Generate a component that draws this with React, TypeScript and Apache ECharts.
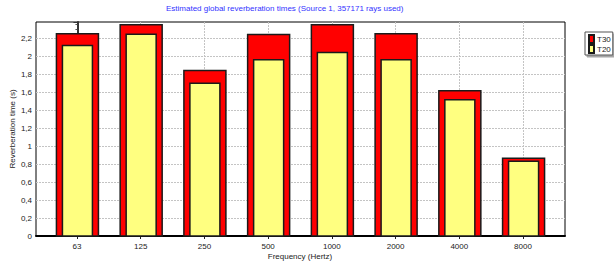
import React, { useEffect, useRef } from "react";
import * as echarts from "echarts";

const frequencies = ["63", "125", "250", "500", "1000", "2000", "4000", "8000"];
const t30 = [2.25, 2.35, 1.84, 2.24, 2.35, 2.25, 1.615, 0.865];
const t20 = [2.12, 2.245, 1.7, 1.96, 2.04, 1.96, 1.515, 0.83];
const yMax = 2.38;
const xPad = 0.65;

const FONT = "Liberation Sans, Arial, sans-serif";

function barRenderer(width: number, fill: string) {
  return (params: any, api: any) => {
    const x = api.value(0);
    const v = api.value(1);
    const top = api.coord([x, v]);
    const base = api.coord([x, 0]);
    return {
      type: "rect",
      shape: { x: top[0] - width / 2, y: top[1], width, height: base[1] - top[1] },
      style: { fill, stroke: "#1a1a1a", lineWidth: 1.5 },
    };
  };
}

export default function App() {
  const ref = useRef<HTMLDivElement>(null);
  useEffect(() => {
    if (!ref.current) return;
    const chart = echarts.init(ref.current, undefined, { renderer: "svg" });
    const option: any = {
      animation: false,
      backgroundColor: "#fff",
      textStyle: { fontFamily: FONT },
      title: {
        text: "Estimated global reverberation times (Source 1, 357171 rays used)",
        left: 166,
        top: 4,
        padding: 0,
        textStyle: { fontSize: 8, fontWeight: "normal", color: "#3333ff", fontFamily: FONT },
      },
      legend: {
        orient: "vertical",
        left: 585,
        top: 32,
        padding: [2, 2, 1, 3],
        itemGap: 0,
        itemWidth: 5,
        itemHeight: 8,
        icon: "rect",
        borderColor: "#555",
        borderWidth: 1,
        backgroundColor: "#fff",
        shadowColor: "rgba(0,0,0,0.35)",
        shadowOffsetX: 2,
        shadowOffsetY: 2,
        shadowBlur: 1,
        textStyle: { fontSize: 8, lineHeight: 9, color: "#222", padding: [0, 0, 0, -2] },
        data: ["T30", "T20"],
      },
      grid: [
        { left: 36, top: 22, width: 529, height: 214, show: true, borderColor: "#000", borderWidth: 1, containLabel: false, outerBoundsMode: "none" },
        { left: 77, top: 22, width: 446, height: 214, containLabel: false, outerBoundsMode: "none" },
      ],
      xAxis: [
        {
          gridIndex: 0,
          type: "value",
          min: -xPad,
          max: frequencies.length - 1 + xPad,
          axisLine: { show: true, onZero: false, lineStyle: { color: "#000", width: 2 } },
          axisTick: { show: false },
          axisLabel: { show: false },
          splitLine: { show: false },
        },
        {
          gridIndex: 1,
          type: "category",
          data: frequencies,
          boundaryGap: false,
          name: "Frequency (Hertz)",
          nameLocation: "middle",
          nameGap: 16,
          nameMoveOverlap: false,
          nameTextStyle: { fontSize: 8, color: "#222" },
          axisLine: { show: false, onZero: false },
          axisTick: { show: true, length: 3, lineStyle: { color: "#222" } },
          axisLabel: { fontSize: 8, color: "#222", margin: 6, interval: 0 },
          splitLine: { show: true, showMinLine: true, showMaxLine: true, lineStyle: { color: "#c4c4c4", type: [2, 1], width: 1 } },
        },
      ],
      yAxis: [
        {
          gridIndex: 0,
          type: "value",
          min: 0,
          max: yMax,
          interval: 0.2,
          name: "Reverberation time (s)",
          nameLocation: "middle",
          nameRotate: 90,
          nameGap: 20,
          nameMoveOverlap: false,
          nameTextStyle: { fontSize: 8, color: "#222" },
          axisLine: { show: true, lineStyle: { color: "#333", width: 2 } },
          axisTick: { show: true, length: 4, lineStyle: { color: "#333" } },
          minorTick: { show: true, splitNumber: 4, length: 2, lineStyle: { color: "#555" } },
          axisLabel: {
            fontSize: 8,
            color: "#222",
            margin: 4,
            showMaxLabel: false,
            formatter: (v: number) => String(Math.round(v * 10) / 10).replace(".", ","),
          },
          splitLine: { show: true, showMaxLine: false, lineStyle: { color: "#c4c4c4", type: [2, 1], width: 1 } },
        },
        {
          gridIndex: 1,
          type: "value",
          min: 0,
          max: yMax,
          show: false,
        },
      ],
      series: [
        {
          name: "T30",
          type: "custom",
          xAxisIndex: 0,
          yAxisIndex: 0,
          encode: { x: 0, y: 1 },
          data: t30.map((v, i) => [i, v]),
          itemStyle: { color: "#ff0000", borderColor: "#1a1a1a", borderWidth: 1 },
          renderItem: barRenderer(42, "#ff0000"),
        },
        {
          name: "T20",
          type: "custom",
          xAxisIndex: 0,
          yAxisIndex: 0,
          encode: { x: 0, y: 1 },
          data: t20.map((v, i) => [i, v]),
          itemStyle: { color: "#ffff80", borderColor: "#1a1a1a", borderWidth: 1 },
          renderItem: barRenderer(30, "#ffff80"),
        },
      ],
    };
    chart.setOption(option);
    return () => chart.dispose();
  }, []);
  return <div ref={ref} style={{ position: "fixed", left: 0, top: 0, width: 614, height: 264 }} />;
}
